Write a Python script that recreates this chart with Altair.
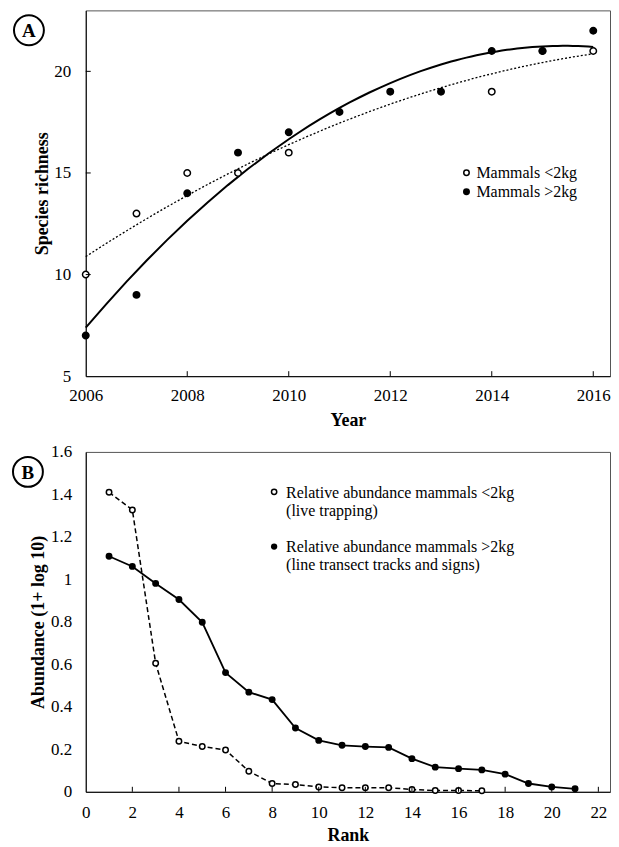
import altair as alt
import pandas as pd

# ---------------- Panel A data ----------------
series_a = ["Mammals <2kg", "Mammals >2kg"]
years_small = [2006, 2007, 2008, 2009, 2010, 2014, 2015, 2016]
rich_small = [10, 13, 15, 15, 16, 19, 21, 21]
years_large = [2006, 2007, 2008, 2009, 2010, 2011, 2012, 2013, 2014, 2015, 2016]
rich_large = [7, 9, 14, 16, 17, 18, 19, 19, 21, 21, 22]
year_ticks = [2006, 2008, 2010, 2012, 2014, 2016]
year_inner_ticks = [2008, 2010, 2012, 2014, 2016]
rich_ticks = [5, 10, 15, 20]
rich_inner_ticks = [10, 15, 20]

# ---------------- Panel B data ----------------
rank_small = list(range(1, 18))
abund_small = [1.41, 1.327, 0.605, 0.238, 0.213, 0.197, 0.097, 0.039, 0.034,
               0.023, 0.019, 0.019, 0.019, 0.011, 0.006, 0.006, 0.005]
rank_large = list(range(1, 22))
abund_large = [1.109, 1.061, 0.981, 0.905, 0.798, 0.561, 0.469, 0.434, 0.300,
               0.242, 0.219, 0.213, 0.209, 0.156, 0.116, 0.109, 0.103, 0.083,
               0.039, 0.023, 0.014]
rank_ticks = list(range(0, 23, 2))
rank_inner_ticks = list(range(2, 23, 2))
abund_ticks = [0, 0.2, 0.4, 0.6, 0.8, 1.0, 1.2, 1.4, 1.6]
legend_b_small = ["Relative abundance mammals <2kg", "(live trapping)"]
legend_b_large = ["Relative abundance mammals >2kg", "(line transect tracks and signs)"]

FONT = "Liberation Serif"
W = 526
HA = 367
HB = 341
LBL = 17

# ---------------- Panel A ----------------
df_a = pd.concat([
    pd.DataFrame({"year": years_small, "value": rich_small, "series": series_a[0]}),
    pd.DataFrame({"year": years_large, "value": rich_large, "series": series_a[1]}),
], ignore_index=True)

xs_a = alt.Scale(domain=[2006, 2016.33], nice=False, zero=False)
ys_a = alt.Scale(domain=[5, 23], nice=False, zero=False)

x_a = alt.X("year:Q", scale=xs_a,
            axis=alt.Axis(values=year_ticks, format="d", title="Year", ticks=False,
                          labelFlush=False, labelPadding=11, titlePadding=8))
y_a = alt.Y("value:Q", scale=ys_a,
            axis=alt.Axis(values=rich_ticks, title="Species richness", ticks=False,
                          labelPadding=15, titlePadding=2))

base_a = alt.Chart(df_a)

trend_small = base_a.transform_filter(
    alt.datum.series == series_a[0]
).transform_regression("year", "value", method="poly", order=2).mark_line(
    color="black", strokeWidth=1.3, strokeDash=[2, 2]
).encode(x=x_a, y=y_a)

trend_large = base_a.transform_filter(
    alt.datum.series == series_a[1]
).transform_regression("year", "value", method="poly", order=2).mark_line(
    color="black", strokeWidth=2
).encode(x=x_a, y=y_a)

points_a = base_a.mark_circle(size=42, stroke="black", strokeWidth=1.5, opacity=1).encode(
    x=x_a, y=y_a,
    fill=alt.Fill("series:N",
                  scale=alt.Scale(domain=series_a, range=["white", "black"]),
                  legend=alt.Legend(title=None, orient="none", legendX=374, legendY=155,
                                    padding=0, symbolType="circle", symbolSize=30,
                                    symbolStrokeColor="black", symbolStrokeWidth=1.5,
                                    labelFont=FONT, labelFontSize=16, labelColor="black",
                                    labelOffset=2, rowPadding=3)),
    order=alt.Order("series:N"),
)

xt_a = alt.Chart(pd.DataFrame({"year": year_inner_ticks})).mark_rule(color="black").encode(
    x=x_a, y=alt.value(HA), y2=alt.value(HA - 5))
yt_a = alt.Chart(pd.DataFrame({"value": rich_inner_ticks})).mark_rule(color="black").encode(
    y=y_a, x=alt.value(0), x2=alt.value(5))

one = pd.DataFrame({"k": [0]})
circ_a = alt.Chart(one).mark_point(shape="circle", size=900, strokeWidth=2, color="black",
                                   filled=False, opacity=1).encode(
    x=alt.value(-57), y=alt.value(20))
lab_a = alt.Chart(one).mark_text(text="A", font=FONT, fontSize=19, fontWeight="bold",
                                 baseline="middle", align="center", color="black").encode(
    x=alt.value(-57), y=alt.value(21))

chart_a = alt.layer(trend_small, trend_large, points_a, xt_a, yt_a, circ_a, lab_a).properties(
    width=W, height=HA)

# ---------------- Panel B ----------------
df_bs = pd.DataFrame({"rank": rank_small, "abund": abund_small})
df_bl = pd.DataFrame({"rank": rank_large, "abund": abund_large})

xs_b = alt.Scale(domain=[0, 22.5], nice=False, zero=False)
ys_b = alt.Scale(domain=[0, 1.6], nice=False, zero=False)
x_b = alt.X("rank:Q", scale=xs_b,
            axis=alt.Axis(values=rank_ticks, title="Rank", ticks=False, labelFlush=False,
                          labelPadding=13, titlePadding=6))
y_b = alt.Y("abund:Q", scale=ys_b,
            axis=alt.Axis(values=abund_ticks, format=".1~f", title="Abundance (1+ log 10)",
                          ticks=False, labelPadding=14, titlePadding=3))

line_bs = alt.Chart(df_bs).mark_line(color="black", strokeWidth=1.5, strokeDash=[5, 3]).encode(
    x=x_b, y=y_b)
pts_bs = alt.Chart(df_bs).mark_point(shape="circle", filled=True, fill="white", stroke="black",
                                     strokeWidth=1.5, size=30, opacity=1).encode(x=x_b, y=y_b)
line_bl = alt.Chart(df_bl).mark_line(color="black", strokeWidth=1.8).encode(x=x_b, y=y_b)
pts_bl = alt.Chart(df_bl).mark_circle(color="black", size=48, opacity=1).encode(x=x_b, y=y_b)

xt_b = alt.Chart(pd.DataFrame({"rank": rank_inner_ticks})).mark_rule(color="black").encode(
    x=x_b, y=alt.value(HB), y2=alt.value(HB - 5))

leg_sym1 = alt.Chart(one).mark_point(shape="circle", filled=True, fill="white", stroke="black",
                                     strokeWidth=1.5, size=28, opacity=1).encode(
    x=alt.value(189), y=alt.value(40))
leg_txt1 = alt.Chart(one).mark_text(text=legend_b_small, font=FONT, fontSize=16, align="left",
                                    baseline="alphabetic", lineHeight=18, color="black").encode(
    x=alt.value(201), y=alt.value(46.5))
leg_sym2 = alt.Chart(one).mark_circle(color="black", size=40, opacity=1).encode(
    x=alt.value(189), y=alt.value(95))
leg_txt2 = alt.Chart(one).mark_text(text=legend_b_large, font=FONT, fontSize=16, align="left",
                                    baseline="alphabetic", lineHeight=18, color="black").encode(
    x=alt.value(201), y=alt.value(100.5))

circ_b = alt.Chart(one).mark_point(shape="circle", size=900, strokeWidth=2, color="black",
                                   filled=False, opacity=1).encode(
    x=alt.value(-58), y=alt.value(20))
lab_b = alt.Chart(one).mark_text(text="B", font=FONT, fontSize=19, fontWeight="bold",
                                 baseline="middle", align="center", color="black").encode(
    x=alt.value(-58), y=alt.value(21))

chart_b = alt.layer(line_bs, pts_bs, line_bl, pts_bl, xt_b, leg_sym1, leg_txt1, leg_sym2,
                    leg_txt2, circ_b, lab_b).properties(width=W, height=HB)

chart = alt.vconcat(chart_a, chart_b, spacing=12).properties(
    padding={"left": 0, "top": 0, "right": 0, "bottom": 0}
).configure(
    padding={"left": 0, "top": 0, "right": 0, "bottom": 0}
).configure_view(
    stroke="#555555", strokeWidth=1
).configure_axis(
    labelFont=FONT, labelFontSize=LBL, labelColor="black",
    titleFont=FONT, titleFontSize=18, titleFontWeight="bold", titleColor="black",
    domainColor="black", domainWidth=1, grid=False
)

chart.save("out.html", embed_options={"renderer": "svg", "actions": False})
